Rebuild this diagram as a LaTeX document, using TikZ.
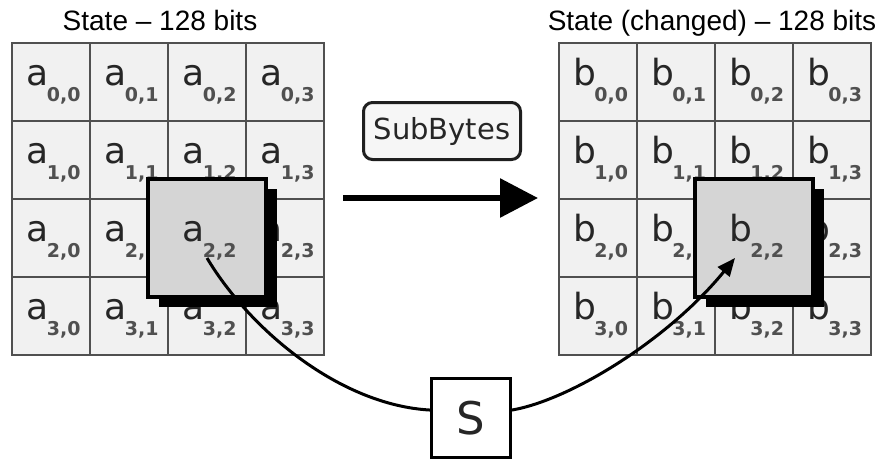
\documentclass[tikz,border=0pt]{standalone}
\usepackage{fontspec}
\setmainfont{Liberation Sans}
\newfontfamily\cellfont{DejaVu Sans}
\usetikzlibrary{arrows.meta,shadows}

\definecolor{cellfill}{HTML}{F1F1F1}
\definecolor{gridline}{HTML}{505050}
\definecolor{hifill}{HTML}{D5D5D5}
\definecolor{letterink}{HTML}{262626}
\definecolor{subink}{HTML}{505050}
\definecolor{tagfill}{HTML}{F6F6F6}

% one state byte: letter with its row,column index
\newcommand\stateentry[3]{\kern5pt{\fontsize{36}{36}\selectfont #1}\kern-1.5pt\raisebox{-16pt}{\fontsize{19}{19}\selectfont\bfseries\color{subink}#2,#3}}

\tikzset{
  statecell/.style={draw=gridline, line width=2pt, fill=cellfill, minimum size=78pt,
    inner sep=0pt, text=letterink, font=\cellfont, text height=16pt, text depth=10pt},
  pickbox/.style={draw=black, line width=4pt, fill=hifill, minimum size=118pt,
    inner sep=0pt, text=letterink, font=\cellfont, text height=16pt, text depth=10pt,
    drop shadow={shadow xshift=11pt, shadow yshift=-10pt, fill=black, opacity=1}},
  title/.style={font=\fontsize{28}{28}\selectfont, anchor=base},
  tag/.style={draw=black!88, line width=3pt, fill=tagfill, rounded corners=9pt,
    minimum width=157pt, minimum height=57pt, inner sep=0pt,
    font=\cellfont\fontsize{29}{29}\selectfont, text=letterink},
  sbox/.style={draw=black, line width=3pt, fill=white, minimum size=79pt, inner sep=0pt,
    font=\cellfont\fontsize{45}{45}\selectfont, text=letterink},
  flow/.style={line width=6pt, -{Triangle[length=38pt,width=38pt]}},
  link/.style={line width=3pt},
}

\begin{document}
\begin{tikzpicture}[x=1pt,y=-1pt]
\useasboundingbox (0,0) rectangle (883,459);

% titles
\node[title] (title-a) at (160,30) {State – 128 bits};
\node[title] (title-b) at (712,30) {State (changed) – 128 bits};

% the two 4x4 state grids
\foreach \r in {0,...,3}{
  \foreach \c in {0,...,3}{
    \node[statecell] (a-\r-\c) at ({51+78*\c},{82+78*\r}) {\stateentry{a}{\r}{\c}};
    \node[statecell] (b-\r-\c) at ({598+78*\c},{82+78*\r}) {\stateentry{b}{\r}{\c}};
  }
}

% highlighted bytes
\node[pickbox] (pick-a) at (a-2-2.center) {\stateentry{a}{2}{2}};
\node[pickbox] (pick-b) at (b-2-2.center) {\stateentry{b}{2}{2}};

% SubBytes step
\coordinate (flow-start) at (343,198);
\coordinate (flow-end) at (538,198);
\draw[flow] (flow-start) -- (flow-end);
\node[tag] (subbytes) at (442,131) {SubBytes};

% S-box
\node[sbox] (sbox) at (471,418) {S};
\coordinate (a-out) at (207,258);
\coordinate (b-in) at (735,258);
\draw[link] (a-out) .. controls (250,330) and (340,405) .. (sbox.169);
\draw[link, -{Triangle[length=18pt,width=15pt]}] (sbox.11) .. controls (570,400) and (668,340) .. (b-in);
\end{tikzpicture}
\end{document}
